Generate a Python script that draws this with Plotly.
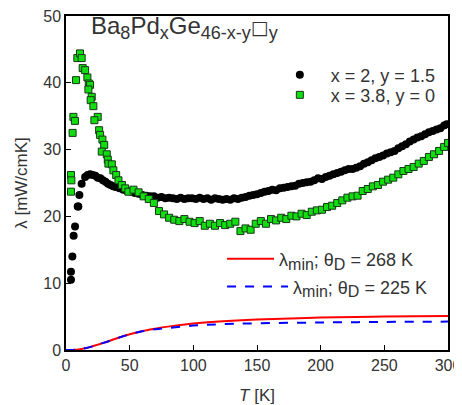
import plotly.graph_objects as go

# x = 2, y = 1.5 (black circles)
t_a = [3.9, 3.9, 5.0, 6.0, 7.1, 9.2, 9.7, 10.5, 12.3,
       15, 17, 19, 21, 23, 25, 27, 29, 31, 33, 35, 37, 39, 42, 45, 48, 51, 54, 57, 60,
       63, 66, 69, 72, 75, 78, 81, 84, 87, 90, 93, 96, 99, 102, 105, 108, 111, 114, 117, 120,
       123, 126, 129, 132, 135, 138, 141, 144, 147, 150, 153, 156, 159, 162, 165, 168, 171, 174,
       177, 180, 183, 186, 189, 192, 195, 198, 201, 204, 207, 210, 213, 216, 219, 222, 225, 228,
       231, 234, 237, 240, 243, 246, 249, 252, 255, 258, 261, 264, 267, 270, 273, 276, 279, 282,
       285, 288, 291, 294, 297, 299]
lam_a = [10.5, 11.7, 14.0, 17.1, 18.5, 21.5, 21.5, 23.2, 24.9,
         25.9, 26.2, 26.3, 26.2, 26.1, 25.8, 25.7, 25.4, 25.2, 24.9, 24.7, 24.5, 24.4, 24.2, 24.0, 23.8, 23.7, 23.5, 23.4, 23.2,
         23.1, 23.0, 23.0, 22.8, 22.9, 22.7, 22.8, 22.7, 22.6, 22.8, 22.6, 22.7, 22.7, 22.6, 22.8, 22.6, 22.7, 22.5, 22.7, 22.6,
         22.5, 22.6, 22.5, 22.7, 22.6, 22.8, 22.9, 23.1, 23.2, 23.3, 23.5, 23.7, 23.8, 24.0, 23.9, 24.2, 24.3, 24.4,
         24.5, 24.6, 24.9, 25.0, 25.1, 25.2, 25.4, 25.7, 25.6, 25.9, 26.1, 26.3, 26.5, 26.7, 26.9, 27.1, 27.1, 27.3,
         27.5, 27.9, 28.1, 28.4, 28.7, 28.9, 29.1, 29.4, 29.6, 29.8, 30.2, 30.5, 30.8, 31.2, 31.5, 31.8, 32.0, 32.3,
         32.6, 32.8, 33.0, 33.2, 33.6, 33.8]

# x = 3.8, y = 0 (green squares)
t_b = [3.9, 4.2, 3.9, 5.8, 7.0, 5.2, 7.9, 8.9, 11.0, 12.3, 13.1, 15.0, 16.8, 17.9, 18.9, 17.6,
       20.2, 19.4, 21.5, 24.9, 22.3, 26.0, 26.8, 28.6, 30.0, 28.1, 32.0, 32.8, 33.3, 36.0, 37.2,
       39.4, 41.2, 43.9, 46.5, 49.0,
       53, 57, 61, 65, 69, 73, 77, 81, 85, 89, 93, 97, 101, 105, 109, 113, 117, 121, 125, 129,
       133, 137, 141, 145, 149, 153, 157, 161, 165, 169, 173, 177, 181, 185, 189, 193, 197, 201,
       205, 209, 213, 217, 221, 225, 229, 233, 237, 241, 245, 249, 253, 257, 261, 265, 269, 273,
       277, 281, 285, 289, 293, 297, 300]
lam_b = [26.2, 25.4, 23.7, 34.9, 34.3, 32.5, 40.4, 43.7, 44.4, 43.7, 42.2, 41.9, 40.8, 39.9, 39.7, 39.0,
         37.9, 37.4, 36.5, 34.9, 34.4, 32.9, 32.2, 31.5, 30.7, 29.7, 29.3, 28.5, 27.9, 27.8, 26.9,
         26.2, 25.4, 24.7, 24.2, 23.7,
         24.0, 23.6, 23.0, 22.6, 22.0, 20.8, 20.3, 19.8, 19.5, 19.3, 19.6, 19.2, 19.0, 19.3, 18.6, 18.9,
         18.6, 19.0, 18.7, 18.9, 19.2, 17.8, 18.2, 18.0, 18.9, 19.3, 18.9, 19.6, 19.4, 19.8, 19.6, 20.1,
         20.0, 20.4, 20.2, 20.7, 20.9, 21.0, 21.4, 21.6, 22.0, 22.4, 22.8, 23.0, 23.1, 23.8, 24.1, 24.5,
         24.7, 25.2, 25.5, 25.8, 26.3, 26.8, 27.1, 27.4, 27.9, 28.3, 28.9, 29.3, 29.8, 30.4, 31.0]

# lambda_min curves
t_min = [0, 5, 10, 15, 20, 25, 30, 40, 50, 60, 70, 80, 100, 120, 150, 200, 250, 300]
lam_268 = [0, 0.01, 0.08, 0.25, 0.5, 0.8, 1.1, 1.75, 2.35, 2.85, 3.2, 3.5, 3.95, 4.25, 4.55, 4.85, 5.0, 5.1]
lam_225 = [0, 0.01, 0.08, 0.25, 0.5, 0.8, 1.1, 1.75, 2.35, 2.8, 3.1, 3.3, 3.65, 3.85, 4.0, 4.12, 4.2, 4.25]

font = "Liberation Sans, Arial, sans-serif"
grey = "#333333"


def sub(s, size):
    return f"<sub><span style='font-size:{size}px'>{s}</span></sub>"


lbl_268 = "λ" + sub("min", 16) + "; θ" + sub("D", 16) + " = 268 K"
lbl_225 = "λ" + sub("min", 16) + "; θ" + sub("D", 16) + " = 225 K"
box = "<span style='font-family:DejaVu Sans;font-size:19px'>□</span>"
title = "Ba" + sub("8", 18) + "Pd" + sub("x", 18) + "Ge" + sub("46-x-y", 18) + box + sub("y", 18)

fig = go.Figure()
fig.add_trace(go.Scatter(x=t_a, y=lam_a, mode="markers", name="x = 2, y = 1.5",
                         marker=dict(symbol="circle", size=8, color="black"), legend="legend"))
fig.add_trace(go.Scatter(x=t_b, y=lam_b, mode="markers", name="x = 3.8, y = 0",
                         marker=dict(symbol="square", size=7, color="#11dd11",
                                     line=dict(color="#163816", width=1)), legend="legend2"))
fig.add_trace(go.Scatter(x=t_min, y=lam_268, mode="lines", name=lbl_268,
                         line=dict(color="red", width=2), line_shape="spline", legend="legend3"))
fig.add_trace(go.Scatter(x=t_min, y=lam_225, mode="lines", name=lbl_225,
                         line=dict(color="blue", width=2, dash="dash"), line_shape="spline", legend="legend4"))

fig.add_annotation(text=title, xref="paper", yref="paper", x=0.06, y=0.967,
                   xanchor="left", yanchor="middle", showarrow=False,
                   font=dict(size=24, color=grey, family=font))

fig.update_xaxes(range=[0, 300], tickvals=[0, 50, 100, 150, 200, 250, 300],
                 ticks="inside", ticklen=5, tickcolor="black", showline=True, linecolor="black",
                 linewidth=1.5, mirror=True, showgrid=False, zeroline=False, automargin=False,
                 ticklabeloverflow="allow", tickfont=dict(size=16, color=grey, family=font),
                 title=dict(text="<i>T</i> [K]", font=dict(size=17, color=grey, family=font), standoff=17))
fig.update_yaxes(range=[0, 50], tickvals=[0, 10, 20, 30, 40, 50],
                 ticks="inside", ticklen=5, tickcolor="black", showline=True, linecolor="black",
                 linewidth=1.5, mirror=True, showgrid=False, zeroline=False, automargin=False,
                 ticklabeloverflow="allow", tickfont=dict(size=16, color=grey, family=font),
                 title=dict(text="λ [mW/cmK]", font=dict(size=17, color=grey, family=font), standoff=11))

leg = dict(xanchor="left", yanchor="middle", bgcolor="rgba(0,0,0,0)", borderwidth=0,
           font=dict(size=18, color=grey, family=font))

fig.update_layout(
    width=454, height=397,
    margin=dict(l=58, r=14, t=8, b=55),
    plot_bgcolor="white", paper_bgcolor="white",
    font=dict(family=font, color=grey),
    showlegend=True,
    legend=dict(leg, x=0.531, y=0.823, itemwidth=52),
    legend2=dict(leg, x=0.531, y=0.763, itemwidth=52),
    legend3=dict(leg, x=0.4085, y=0.272, itemwidth=47),
    legend4=dict(leg, x=0.4085, y=0.189, itemwidth=61),
)

fig.write_html("out.html")
